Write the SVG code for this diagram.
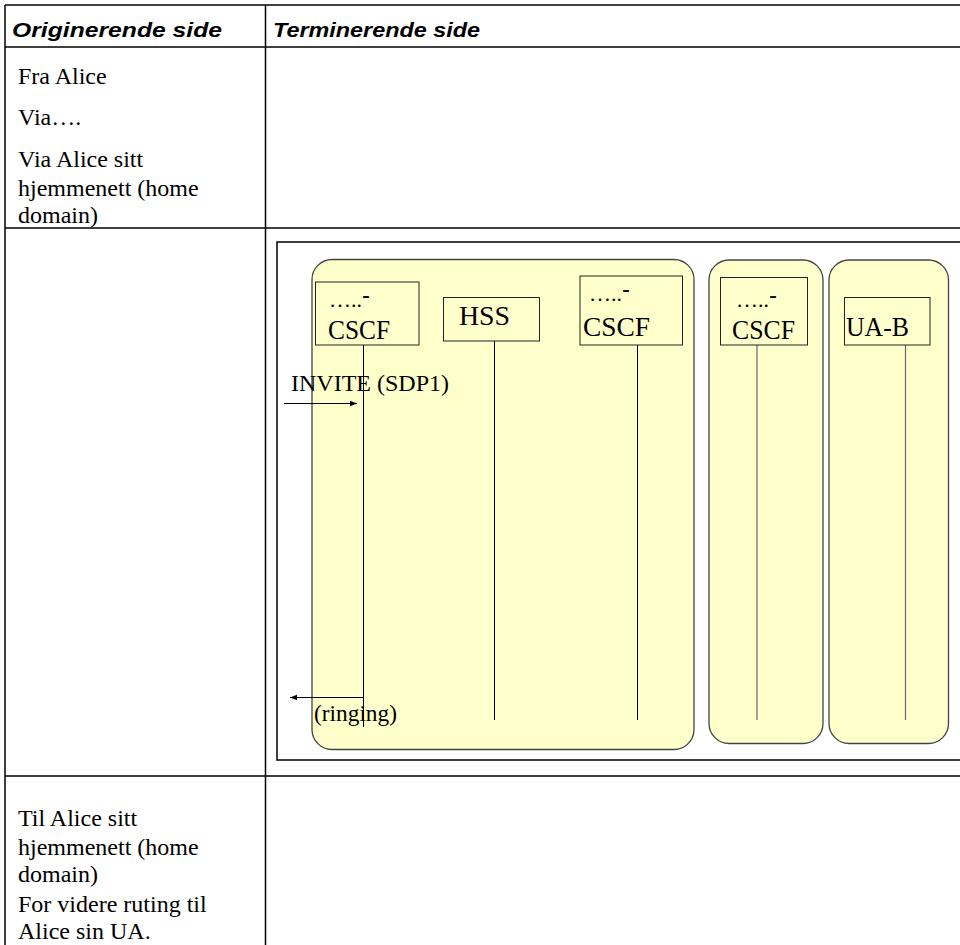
<svg xmlns="http://www.w3.org/2000/svg" width="960" height="945" viewBox="0 0 960 945">
<defs>
<style>
.grid{stroke:#000;stroke-width:1.5;fill:none}
.hdr{font-family:"Liberation Sans",Arial,sans-serif;font-weight:bold;font-style:italic;font-size:21px;fill:#000}
.tm{font-family:"Liberation Serif","Times New Roman",serif;font-size:24px;fill:#000}
.lbl{font-family:"Liberation Serif","Times New Roman",serif;font-size:23px;fill:#000}
.big{font-family:"Liberation Serif","Times New Roman",serif;font-size:28px;fill:#000}
.dots{font-family:"Liberation Serif","Times New Roman",serif;font-size:22px;fill:#000}
.dash{font-family:"Liberation Sans",Arial,sans-serif;font-size:24px;fill:#000}
.zone{fill:#FFFFCC;stroke:#444;stroke-width:1.3}
.box{fill:#FFFFCC;stroke:#222;stroke-width:1}
.life{stroke:#000;stroke-width:1}
.lifeg{stroke:#666;stroke-width:1.2}
.msg{stroke:#000;stroke-width:1;fill:none}
</style>
<marker id="ah" viewBox="0 0 10 10" refX="10" refY="5" markerWidth="7" markerHeight="7" orient="auto-start-reverse" markerUnits="userSpaceOnUse">
<path d="M0,1 L10,5 L0,9 z" fill="#000"/>
</marker>
</defs>
<rect width="960" height="945" fill="#fff"/>
<g id="table">
<line class="grid" x1="5" y1="5" x2="960" y2="5"/>
<line class="grid" x1="5" y1="47" x2="960" y2="47"/>
<line class="grid" x1="5" y1="228" x2="960" y2="228"/>
<line class="grid" x1="5" y1="776" x2="960" y2="776"/>
<line class="grid" x1="5" y1="5" x2="5" y2="945"/>
<line class="grid" x1="265.5" y1="5" x2="265.5" y2="945"/>
<text class="hdr" x="12" y="37" textLength="210" lengthAdjust="spacingAndGlyphs">Originerende side</text>
<text class="hdr" x="273" y="37" textLength="207" lengthAdjust="spacingAndGlyphs">Terminerende side</text>
<text class="tm" x="18" y="84">Fra Alice</text>
<text class="tm" x="18" y="125">Via….</text>
<text class="tm" x="18" y="167">Via Alice sitt</text>
<text class="tm" x="18" y="196">hjemmenett (home</text>
<text class="tm" x="18" y="223">domain)</text>
<text class="tm" x="18" y="826">Til Alice sitt</text>
<text class="tm" x="18" y="855">hjemmenett (home</text>
<text class="tm" x="18" y="882">domain)</text>
<text class="tm" x="18" y="912">For videre ruting til</text>
<text class="tm" x="18" y="939">Alice sin UA.</text>
</g>
<g id="frame">
<rect x="277" y="242" width="700" height="518" fill="none" stroke="#000" stroke-width="1.5"/>
</g>
<g id="zone1"><rect class="zone" x="312" y="259.5" width="382" height="490" rx="20"/></g>
<g id="zone2"><rect class="zone" x="709" y="260" width="114" height="483.5" rx="20"/></g>
<g id="zone3"><rect class="zone" x="829" y="260" width="119.5" height="483.5" rx="20"/></g>
<g id="connectors">
<line class="life" x1="363.5" y1="345" x2="363.5" y2="727"/>
<line class="life" x1="494.5" y1="341" x2="494.5" y2="720"/>
<line class="life" x1="637.5" y1="345" x2="637.5" y2="720"/>
<line class="lifeg" x1="757" y1="345" x2="757" y2="720"/>
<line class="lifeg" x1="905.5" y1="345" x2="905.5" y2="720"/>
<line class="msg" x1="284" y1="403.5" x2="357" y2="403.5" marker-end="url(#ah)"/>
<text class="lbl" x="291" y="391" textLength="158" lengthAdjust="spacingAndGlyphs">INVITE (SDP1)</text>
<line class="msg" x1="363" y1="697.5" x2="290" y2="697.5" marker-end="url(#ah)"/>
<text class="lbl" x="314" y="721" textLength="83" lengthAdjust="spacingAndGlyphs">(ringing)</text>
</g>
<g id="node-cscf1">
<rect class="box" x="315.5" y="282" width="103.5" height="63"/>
<text class="dots" x="329" y="307">…..<tspan class="dash" dy="-4">-</tspan></text>
<text class="big" x="328" y="339" textLength="62" lengthAdjust="spacingAndGlyphs">CSCF</text>
</g>
<g id="node-hss">
<rect class="box" x="443.5" y="297.5" width="96" height="43.5"/>
<text class="big" x="459" y="325" textLength="51" lengthAdjust="spacingAndGlyphs">HSS</text>
</g>
<g id="node-cscf2">
<rect class="box" x="580" y="276" width="102.5" height="69"/>
<text class="dots" x="589" y="301">…..<tspan class="dash" dy="-4">-</tspan></text>
<text class="big" x="583" y="336" textLength="67" lengthAdjust="spacingAndGlyphs">CSCF</text>
</g>
<g id="node-cscf3">
<rect class="box" x="720.5" y="277.5" width="87" height="67.5"/>
<text class="dots" x="736" y="307">…..<tspan class="dash" dy="-4">-</tspan></text>
<text class="big" x="732" y="339" textLength="63" lengthAdjust="spacingAndGlyphs">CSCF</text>
</g>
<g id="node-uab">
<rect class="box" x="844.5" y="297.5" width="85.5" height="47.5"/>
<text class="big" x="846" y="336" textLength="63" lengthAdjust="spacingAndGlyphs">UA-B</text>
</g>
</svg>
